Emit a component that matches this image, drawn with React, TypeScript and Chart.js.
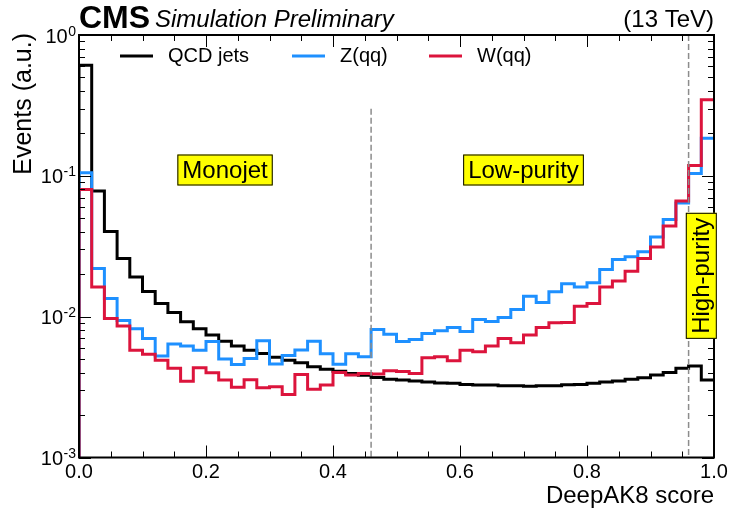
import React, { useEffect, useRef } from "react";
import { Chart, registerables } from "chart.js";

Chart.register(...registerables);

// DeepAK8 score histograms, 50 bins of width 0.02 from 0 to 1 (normalised, arbitrary units)
const binWidth = 0.02;

const qcdJets = [
  0.61, 0.078, 0.0403, 0.0259, 0.0191, 0.0151, 0.0124, 0.0107, 0.0092, 0.0082,
  0.0074, 0.0067, 0.0062, 0.00578, 0.00548, 0.00514, 0.00491, 0.0047, 0.00441, 0.00424,
  0.0041, 0.00395, 0.00383, 0.0037, 0.00359, 0.00355, 0.0035, 0.00343, 0.00338, 0.00336,
  0.0033, 0.00327, 0.00327, 0.00323, 0.00323, 0.0032, 0.00323, 0.00323, 0.00328, 0.0033,
  0.00336, 0.00343, 0.00349, 0.00359, 0.00368, 0.00385, 0.00402, 0.0043, 0.00446, 0.00355,
];

const zQQ = [
  0.105, 0.022, 0.01346, 0.0094, 0.0082, 0.007, 0.00525, 0.0064, 0.00618, 0.00578,
  0.00665, 0.005, 0.00458, 0.00505, 0.00675, 0.00462, 0.0053, 0.0058, 0.00668, 0.00545,
  0.0046, 0.00545, 0.0052, 0.0081, 0.0075, 0.00667, 0.00689, 0.0076, 0.00793, 0.00838,
  0.00785, 0.00955, 0.00925, 0.00987, 0.01125, 0.01397, 0.0126, 0.015, 0.0171, 0.01627,
  0.0174, 0.0216, 0.0255, 0.0266, 0.0289, 0.0368, 0.0489, 0.0641, 0.104, 0.185,
];

const wQQ = [
  0.08, 0.01626, 0.0097, 0.0086, 0.00578, 0.00542, 0.00491, 0.0043, 0.00348, 0.00433,
  0.004, 0.00355, 0.00315, 0.00357, 0.00313, 0.00318, 0.0028, 0.00388, 0.00305, 0.00327,
  0.00402, 0.00385, 0.00395, 0.00391, 0.00413, 0.00408, 0.00395, 0.0051, 0.00519, 0.00486,
  0.00578, 0.00563, 0.0062, 0.007, 0.00652, 0.0074, 0.00838, 0.00904, 0.0091, 0.01186,
  0.0124, 0.01627, 0.01795, 0.021, 0.0259, 0.0313, 0.0441, 0.0662, 0.1186, 0.347,
];

const seriesLabels = ["QCD jets", "Z(qq)", "W(qq)"];
const seriesColors = ["#000000", "#1E90FF", "#DC143C"];

const xTickValues = [0, 0.2, 0.4, 0.6, 0.8, 1.0];
const xTickLabels = ["0.0", "0.2", "0.4", "0.6", "0.8", "1.0"];
const xMinorStep = 0.05;
const yDecades = [-3, -2, -1, 0];
const yMin = 0.001;
const yMax = 1;

// working-point cuts on the score and the category names
const cutLow = 0.46;
const cutHigh = 0.96;
const cutLowTop = 0.3;
const regionNames = ["Monojet", "Low-purity", "High-purity"];
const regionX = [0.23, 0.7, 0.98];
const regionY = [0.11, 0.11, 0.0195];

const FONT = '"Liberation Sans", Arial, Helvetica, sans-serif';

function toSteps(values: number[]) {
  const pts = [{ x: 0, y: yMin }];
  values.forEach((v, i) => pts.push({ x: i * binWidth, y: v }));
  pts.push({ x: values.length * binWidth, y: values[values.length - 1] });
  return pts;
}

const decorations = {
  id: "decorations",
  beforeDraw(chart: any) {
    const ctx = chart.ctx;
    ctx.save();
    ctx.fillStyle = "#ffffff";
    ctx.fillRect(0, 0, chart.width, chart.height);
    ctx.restore();
  },
  afterDatasetsDraw(chart: any) {
    const ctx: CanvasRenderingContext2D = chart.ctx;
    const xs = chart.scales.x;
    const ys = chart.scales.y;
    const { left, right, top, bottom } = chart.chartArea;
    ctx.save();

    // dashed category boundaries
    ctx.strokeStyle = "#8c8c8c";
    ctx.lineWidth = 1.5;
    ctx.setLineDash([6, 3]);
    ctx.beginPath();
    const xl = xs.getPixelForValue(cutLow);
    ctx.moveTo(xl, ys.getPixelForValue(cutLowTop));
    ctx.lineTo(xl, bottom);
    const xh = xs.getPixelForValue(cutHigh);
    ctx.moveTo(xh, top);
    ctx.lineTo(xh, bottom);
    ctx.stroke();
    ctx.setLineDash([]);

    // frame
    ctx.strokeStyle = "#000";
    ctx.lineWidth = 2;
    ctx.strokeRect(left, top, right - left, bottom - top);

    // x ticks (inward, mirrored on top)
    ctx.lineWidth = 1;
    ctx.beginPath();
    const nMinor = Math.round(1 / xMinorStep);
    for (let i = 0; i <= nMinor; i++) {
      const v = i * xMinorStep;
      const px = Math.round(xs.getPixelForValue(v)) + 0.5;
      const len = i % 4 === 0 ? 12 : 6;
      ctx.moveTo(px, bottom);
      ctx.lineTo(px, bottom - len);
      ctx.moveTo(px, top);
      ctx.lineTo(px, top + len);
    }
    // y ticks (inward, mirrored on right)
    for (const d of yDecades) {
      const major = Math.pow(10, d);
      const py = Math.round(ys.getPixelForValue(major)) + 0.5;
      ctx.moveTo(left, py);
      ctx.lineTo(left + 12, py);
      ctx.moveTo(right, py);
      ctx.lineTo(right - 12, py);
      if (d < 0) {
        for (let m = 2; m <= 9; m++) {
          const my = Math.round(ys.getPixelForValue(m * major)) + 0.5;
          ctx.moveTo(left, my);
          ctx.lineTo(left + 6, my);
          ctx.moveTo(right, my);
          ctx.lineTo(right - 6, my);
        }
      }
    }
    ctx.stroke();

    // x tick labels
    ctx.fillStyle = "#000";
    ctx.font = `20px ${FONT}`;
    ctx.textAlign = "center";
    ctx.textBaseline = "top";
    xTickValues.forEach((v, i) => {
      ctx.fillText(xTickLabels[i], xs.getPixelForValue(v), bottom + 5);
    });

    // y tick labels: 10^n
    ctx.textBaseline = "alphabetic";
    ctx.textAlign = "right";
    for (const d of yDecades) {
      const py = ys.getPixelForValue(Math.pow(10, d));
      const exp = d === 0 ? "0" : `-${-d}`;
      ctx.font = `14px ${FONT}`;
      const ew = ctx.measureText(exp).width;
      ctx.fillText(exp, 76, py + 0.5);
      ctx.font = `20px ${FONT}`;
      ctx.fillText("10", 76 - ew - 0.5, py + 7.5);
    }

    // axis titles
    ctx.font = `24px ${FONT}`;
    ctx.textAlign = "right";
    ctx.textBaseline = "alphabetic";
    ctx.fillText("DeepAK8 score", right, 503);
    ctx.save();
    ctx.translate(31, top - 2);
    ctx.rotate(-Math.PI / 2);
    ctx.font = `25px ${FONT}`;
    ctx.fillText("Events (a.u.)", 0, 0);
    ctx.restore();

    // header
    ctx.textAlign = "left";
    ctx.font = `bold 32px ${FONT}`;
    ctx.fillText("CMS", 79, 28);
    ctx.font = `italic 24px ${FONT}`;
    ctx.fillText("Simulation Preliminary", 155, 27);
    ctx.textAlign = "right";
    ctx.font = `24px ${FONT}`;
    ctx.fillText("(13 TeV)", right, 27);

    // legend
    const legendX = [120, 292, 429];
    const legendY = 56;
    seriesLabels.forEach((lab, i) => {
      ctx.strokeStyle = seriesColors[i];
      ctx.lineWidth = 3;
      ctx.beginPath();
      ctx.moveTo(legendX[i], legendY);
      ctx.lineTo(legendX[i] + 33, legendY);
      ctx.stroke();
      ctx.fillStyle = "#000";
      ctx.font = `20px ${FONT}`;
      ctx.textAlign = "left";
      ctx.textBaseline = "middle";
      ctx.fillText(lab, legendX[i] + 48, legendY);
    });

    // category boxes
    ctx.font = `24px ${FONT}`;
    ctx.textAlign = "center";
    ctx.textBaseline = "middle";
    ctx.lineWidth = 1;
    ctx.strokeStyle = "#000";
    regionNames.forEach((name, i) => {
      const cx = xs.getPixelForValue(regionX[i]);
      const cy = ys.getPixelForValue(regionY[i]);
      const w = ctx.measureText(name).width + 10;
      const h = 31;
      ctx.save();
      ctx.translate(cx, cy);
      if (i === 2) ctx.rotate(-Math.PI / 2);
      ctx.fillStyle = "#ffff00";
      ctx.fillRect(-w / 2, -h / 2, w, h);
      ctx.strokeRect(-w / 2 + 0.5, -h / 2 + 0.5, w - 1, h - 1);
      ctx.fillStyle = "#000";
      ctx.fillText(name, 0, 1);
      ctx.restore();
    });

    ctx.restore();
  },
};

export default function App() {
  const canvasRef = useRef<HTMLCanvasElement | null>(null);

  useEffect(() => {
    if (!canvasRef.current) return;
    const series = [qcdJets, zQQ, wQQ];
    const chart = new Chart(canvasRef.current, {
      type: "line",
      data: {
        datasets: series.map((vals, i) => ({
          label: seriesLabels[i],
          data: toSteps(vals),
          borderColor: seriesColors[i],
          backgroundColor: seriesColors[i],
          borderWidth: 3,
          pointRadius: 0,
          fill: false,
          // horizontal run across each bin, then the vertical jump at its upper edge
          stepped: "before" as const,
          borderJoinStyle: "miter" as const,
          order: 3 - i,
        })),
      },
      options: {
        responsive: false,
        animation: false,
        devicePixelRatio: 1,
        layout: { padding: { left: 79, right: 17, top: 35, bottom: 54.5 } },
        plugins: { legend: { display: false }, tooltip: { enabled: false } },
        scales: {
          x: { type: "linear", min: 0, max: 1, display: false },
          y: { type: "logarithmic", min: yMin, max: yMax, display: false },
        },
      },
      plugins: [decorations],
    });
    return () => chart.destroy();
  }, []);

  return (
    <div style={{ position: "absolute", left: 0, top: 0, width: 731, height: 512 }}>
      <canvas ref={canvasRef} width={731} height={512} style={{ display: "block" }} />
    </div>
  );
}
